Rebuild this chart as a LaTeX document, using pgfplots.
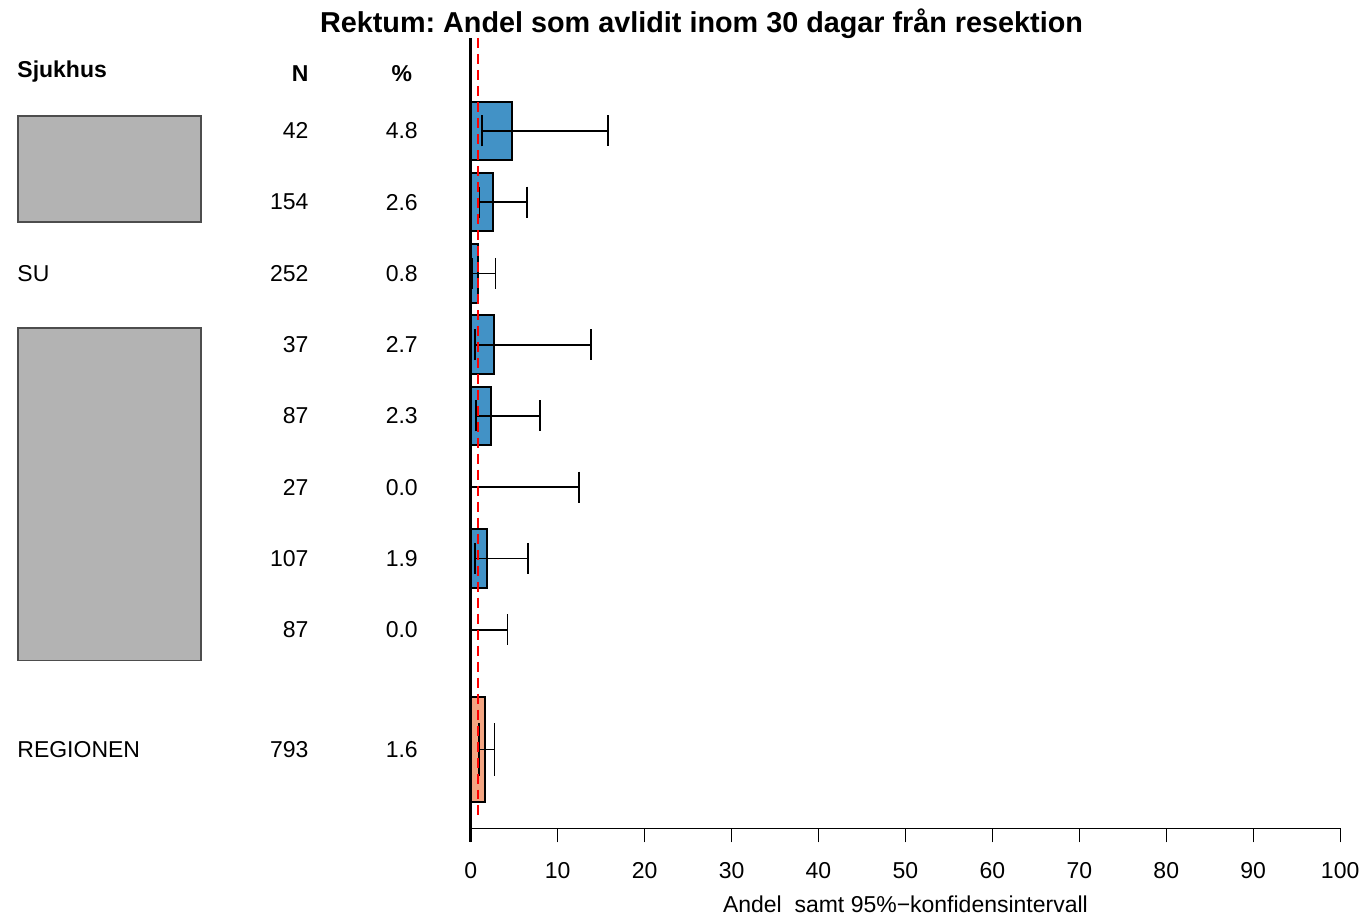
\documentclass[border=0pt]{standalone}
\usepackage{fontspec}
\setmainfont{Liberation Sans}
\usepackage{pgfplots}
\pgfplotsset{compat=1.18}
\definecolor{barblue}{HTML}{4292C6}
\definecolor{barorange}{HTML}{F4A582}
\definecolor{boxgrey}{HTML}{B3B3B3}
\definecolor{boxedge}{HTML}{4D4D4D}
\frenchspacing
\begin{document}
\begin{tikzpicture}[font=\fontsize{11.5pt}{13pt}\selectfont,
  txt/.style={inner sep=0pt, font=\fontsize{11.5pt}{13pt}\selectfont},
  btxt/.style={inner sep=0pt, font=\fontsize{11.5pt}{13pt}\selectfont\bfseries}]
\begin{axis}[
  scale only axis,
  width=435pt, height=395.5pt,
  xmin=0, xmax=100, ymin=0, ymax=11.094,
  axis x line*=bottom,
  axis y line=none,
  x axis line style={-, line width=0.6pt},
  xtick={0,10,...,100},
  tick align=outside,
  major tick length=7pt,
  xtick style={line width=0.6pt, black},
  ytick=\empty,
  /pgf/number format/assume math mode=true,
  xticklabel style={font=\fontsize{11.5pt}{13pt}\selectfont, anchor=center, yshift=-14pt},
  xlabel={Andel\ \ samt 95\%−konfidensintervall},
  xlabel style={at={(axis description cs:0.5,0)}, anchor=center, yshift=-38pt},
  clip=false,
]
% hospitals with non-zero share
\addplot[xbar, bar width=0.82, bar shift=0pt, fill=barblue, draw=black, line width=1pt,
  error bars/.cd, x dir=both, x explicit,
  error bar style={black, line width=0.85pt},
  error mark options={black, line width=0.85pt, mark size=7.75pt, rotate=90}]
coordinates {
 (4.8,9.79) += (10.98,0) -= (3.48,0)
 (2.6,8.79) += (3.89,0) -= (1.59,0)
 (0.8,7.79) += (2.05,0) -= (0.58,0)
 (2.7,6.79) += (11.12,0) -= (2.22,0)
 (2.3,5.79) += (5.70,0) -= (1.67,0)
 (1.9,3.79) += (4.66,0) -= (1.39,0)
};
% hospitals with zero share
\addplot[xbar, bar width=0.82, bar shift=0pt, fill=barblue, draw=black, line width=1pt,
  error bars/.cd, x dir=plus, x explicit,
  error bar style={black, line width=0.85pt},
  error mark options={black, line width=0.85pt, mark size=7.75pt, rotate=90}]
coordinates {
 (0.0,4.79) += (12.46,0)
 (0.0,2.79) += (4.23,0)
};
% region
\addplot[xbar, bar width=1.47, bar shift=0pt, fill=barorange, draw=black, line width=1pt,
  error bars/.cd, x dir=both, x explicit,
  error bar style={black, line width=0.85pt},
  error mark options={black, line width=0.85pt, mark size=13.25pt, rotate=90}]
coordinates {
 (1.6,1.108) += (1.15,0) -= (0.64,0)
};
% thick zero line and red reference line
\draw[black, line width=1.5pt] (axis cs:0,11.094) -- (axis cs:0,-0.196);
\draw[red, line width=0.7pt, dash pattern=on 5pt off 3pt] (axis cs:0.85,11.094) -- (axis cs:0.85,0.17);
% title
\node[inner sep=0pt, font=\fontsize{14.4pt}{16pt}\selectfont\bfseries, anchor=center] at (axis cs:26.55,11.30) {Rektum: Andel som avlidit inom 30 dagar från resektion};
% headers
\node[btxt, anchor=west] at (axis cs:-52.18,10.617) {Sjukhus};
\node[btxt, anchor=east] at (axis cs:-18.62,10.60) {N};
\node[btxt, anchor=center] at (axis cs:-7.93,10.60) {\%};
% rows
\node[txt, anchor=west] at (axis cs:-52.18,7.79) {SU};
\node[txt, anchor=west] at (axis cs:-52.18,1.108) {REGIONEN};
\node[txt, anchor=east] at (axis cs:-18.62,9.79) {42};
\node[txt, anchor=east] at (axis cs:-18.62,8.79) {154};
\node[txt, anchor=east] at (axis cs:-18.62,7.79) {252};
\node[txt, anchor=east] at (axis cs:-18.62,6.79) {37};
\node[txt, anchor=east] at (axis cs:-18.62,5.79) {87};
\node[txt, anchor=east] at (axis cs:-18.62,4.79) {27};
\node[txt, anchor=east] at (axis cs:-18.62,3.79) {107};
\node[txt, anchor=east] at (axis cs:-18.62,2.79) {87};
\node[txt, anchor=east] at (axis cs:-18.62,1.108) {793};
\node[txt] at (axis cs:-7.93,9.79) {4.8};
\node[txt] at (axis cs:-7.93,8.79) {2.6};
\node[txt] at (axis cs:-7.93,7.79) {0.8};
\node[txt] at (axis cs:-7.93,6.79) {2.7};
\node[txt] at (axis cs:-7.93,5.79) {2.3};
\node[txt] at (axis cs:-7.93,4.79) {0.0};
\node[txt] at (axis cs:-7.93,3.79) {1.9};
\node[txt] at (axis cs:-7.93,2.79) {0.0};
\node[txt] at (axis cs:-7.93,1.108) {1.6};
% anonymising boxes
\draw[fill=boxgrey, draw=boxedge, line width=0.75pt] (axis cs:-52.07,10.0) rectangle (axis cs:-31.03,8.513);
\draw[fill=boxgrey, draw=boxedge, line width=0.75pt] (axis cs:-52.07,7.027) rectangle (axis cs:-31.03,2.356);
% bounding box
\path (axis cs:-54.14,11.627) rectangle (axis cs:102.87,-1.276);
\end{axis}
\end{tikzpicture}
\end{document}
